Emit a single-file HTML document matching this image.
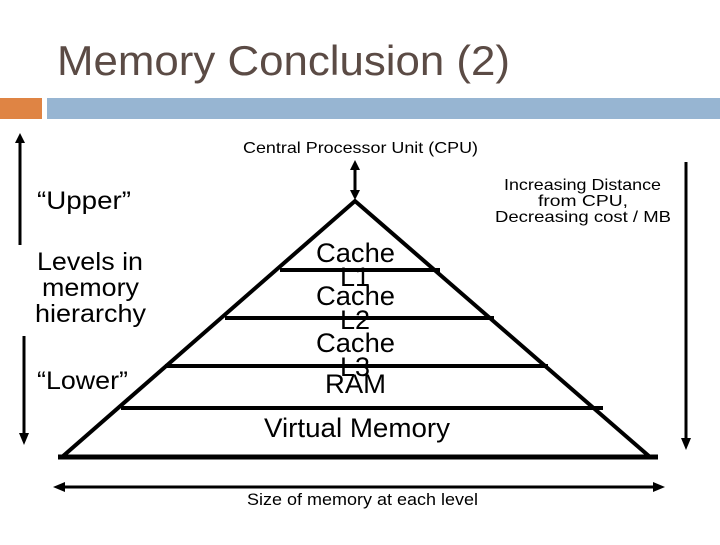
<!DOCTYPE html>
<html><head><style>
body{margin:0;width:720px;height:540px;background:#fff;overflow:hidden;font-family:"Liberation Sans",sans-serif;}
</style></head><body>
<svg width="720" height="540" xmlns="http://www.w3.org/2000/svg" font-family="Liberation Sans, sans-serif">
<text x="57" y="75" font-size="42" fill="#5b4b45" textLength="453" lengthAdjust="spacingAndGlyphs">Memory Conclusion (2)</text>
<rect x="0" y="98" width="42" height="21" fill="#df8444"/>
<rect x="47" y="98" width="673" height="21" fill="#97b5d2"/>
<text x="243" y="153" font-size="16" textLength="235" lengthAdjust="spacingAndGlyphs">Central Processor Unit (CPU)</text>
<g stroke="#000" fill="none">
<line x1="355" y1="166" x2="355" y2="194" stroke-width="3"/>
<polyline points="62,457 355,201 650,457 Z" stroke-width="4"/>
<line x1="58" y1="457" x2="658" y2="457" stroke-width="5"/>
<line x1="280" y1="270" x2="440" y2="270" stroke-width="4"/>
<line x1="225" y1="318" x2="494" y2="318" stroke-width="4"/>
<line x1="165" y1="366" x2="548" y2="366" stroke-width="4"/>
<line x1="121" y1="408" x2="603" y2="408" stroke-width="4"/>
<line x1="20" y1="140" x2="20" y2="245" stroke-width="3"/>
<line x1="24" y1="336" x2="24" y2="433" stroke-width="3"/>
<line x1="686" y1="162" x2="686" y2="438" stroke-width="3"/>
<line x1="62" y1="487" x2="656" y2="487" stroke-width="3"/>
</g>
<g fill="#000">
<polygon points="355,160 350,170 360,170"/>
<polygon points="355,200 350,190 360,190"/>
<polygon points="20,133 15,143 25,143"/>
<polygon points="24,445 19,433 29,433"/>
<polygon points="686,450 681,438 691,438"/>
<polygon points="53,487 65,482 65,492"/>
<polygon points="665,487 653,482 653,492"/>
</g>
<text x="504" y="190" font-size="16" textLength="157" lengthAdjust="spacingAndGlyphs">Increasing Distance</text>
<text x="538" y="206" font-size="16" textLength="90" lengthAdjust="spacingAndGlyphs">from CPU,</text>
<text x="495" y="222" font-size="16" textLength="176" lengthAdjust="spacingAndGlyphs">Decreasing  cost / MB</text>
<text x="37" y="209" font-size="25" textLength="94" lengthAdjust="spacingAndGlyphs">“Upper”</text>
<text x="37" y="270" font-size="25" textLength="106" lengthAdjust="spacingAndGlyphs">Levels in</text>
<text x="42" y="296" font-size="25" textLength="97" lengthAdjust="spacingAndGlyphs">memory</text>
<text x="35" y="322" font-size="25" textLength="111" lengthAdjust="spacingAndGlyphs">hierarchy</text>
<text x="37" y="389" font-size="25" textLength="91" lengthAdjust="spacingAndGlyphs">“Lower”</text>
<g font-size="27">
<text x="316" y="262" textLength="79" lengthAdjust="spacingAndGlyphs">Cache</text>
<text x="340" y="286">L1</text>
<text x="316" y="305" textLength="79" lengthAdjust="spacingAndGlyphs">Cache</text>
<text x="340" y="329">L2</text>
<text x="316" y="352" textLength="79" lengthAdjust="spacingAndGlyphs">Cache</text>
<text x="340" y="376">L3</text>
<text x="325" y="393" textLength="61" lengthAdjust="spacingAndGlyphs">RAM</text>
<text x="264" y="437" textLength="186" lengthAdjust="spacingAndGlyphs">Virtual Memory</text>
</g>
<text x="247" y="505" font-size="17" textLength="231" lengthAdjust="spacingAndGlyphs">Size of memory at each level</text>
</svg>
</body></html>
